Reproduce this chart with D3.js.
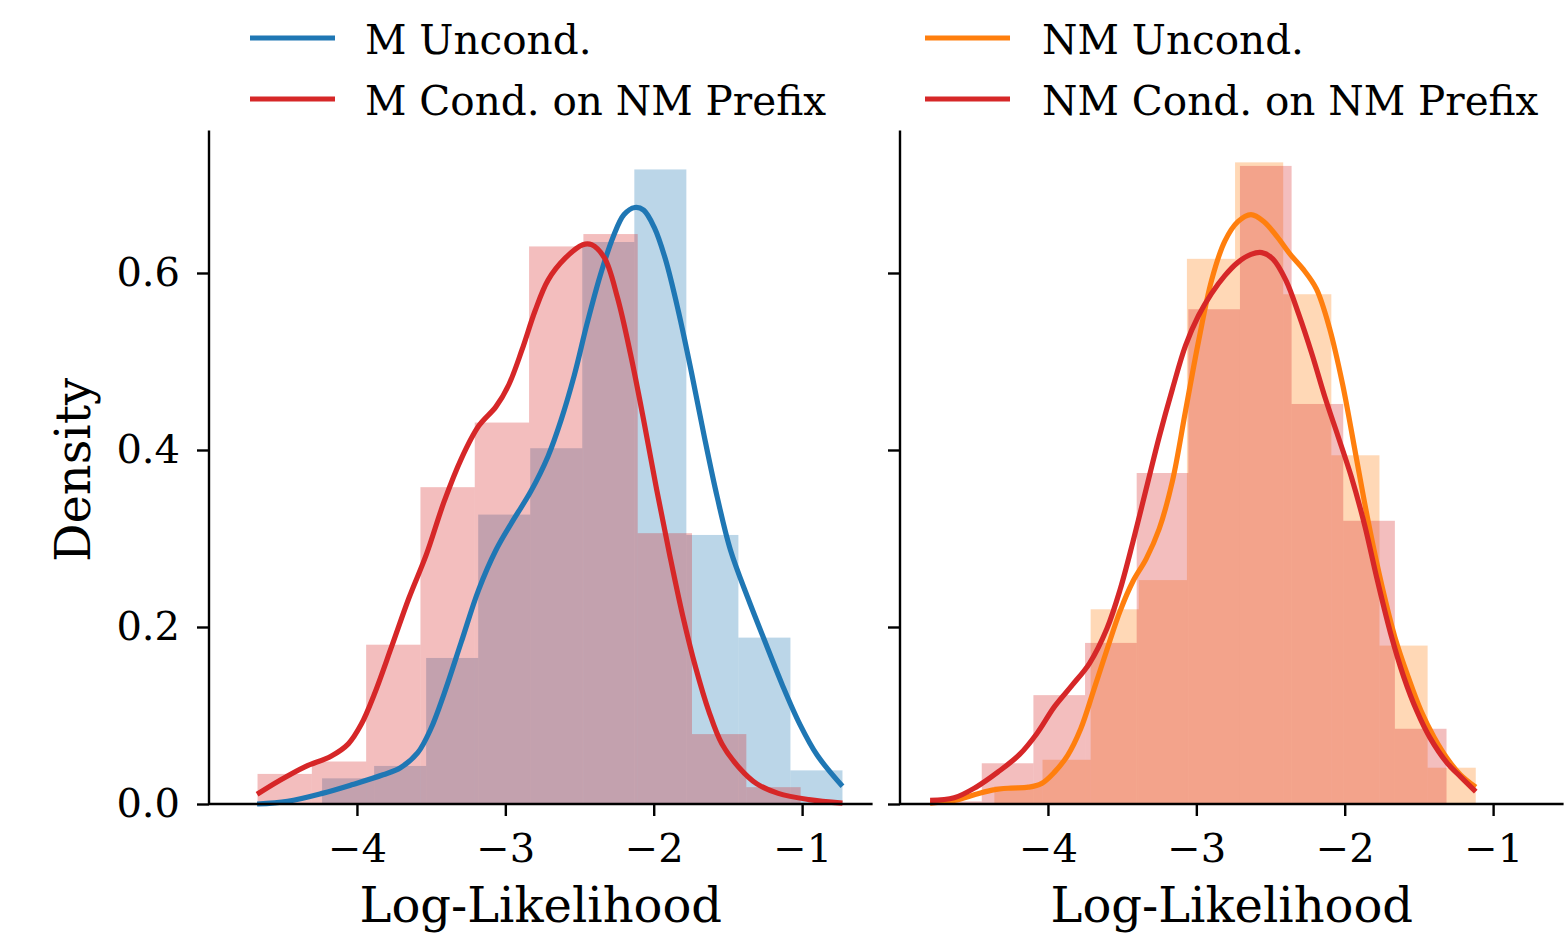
<!DOCTYPE html>
<html>
<head>
<meta charset="utf-8">
<script src="https://cdn.jsdelivr.net/npm/d3@7"></script>
<style>
  html, body { margin: 0; padding: 0; background: #fff; }
  svg { display: block; }
  text { font-family: "DejaVu Serif", serif; fill: #000; }
</style>
</head>
<body>
<svg id="chart" width="1567" height="935"></svg>
<script>
// ---------------- data ----------------
const xTicks = [-4, -3, -2, -1];
const yTicks = [0.0, 0.2, 0.4, 0.6];
const xLabel = "Log-Likelihood";
const yLabel = "Density";

// Left panel: histogram bins (range + densities)
const mUncondBinRange = [-4.235, -0.728];
const mUncondHist = [0.029, 0.043, 0.165, 0.327, 0.402, 0.635, 0.717, 0.304, 0.188, 0.038];
const mCondBinRange = [-4.670, -1.010];
const mCondHist = [0.034, 0.048, 0.180, 0.358, 0.431, 0.630, 0.644, 0.306, 0.079, 0.019];

// Left panel: KDE curves
const mUncondKdeX = [-4.673,-4.468,-4.234,-4.029,-3.824,-3.707,-3.590,-3.502,-3.414,-3.297,-3.180,-3.063,-2.946,-2.829,-2.712,-2.624,-2.536,-2.449,-2.361,-2.273,-2.200,-2.127,-2.068,-1.995,-1.922,-1.834,-1.746,-1.659,-1.571,-1.483,-1.366,-1.249,-1.132,-1.015,-0.898,-0.728];
const mUncondKdeY = [0.000,0.003,0.012,0.022,0.033,0.041,0.058,0.085,0.124,0.183,0.242,0.287,0.321,0.353,0.393,0.434,0.484,0.543,0.597,0.641,0.666,0.674,0.671,0.651,0.616,0.557,0.488,0.415,0.346,0.287,0.233,0.183,0.134,0.090,0.055,0.020];
const mCondKdeX = [-4.673,-4.527,-4.351,-4.175,-4.058,-3.971,-3.883,-3.766,-3.649,-3.532,-3.414,-3.297,-3.180,-3.063,-2.976,-2.888,-2.800,-2.712,-2.595,-2.478,-2.419,-2.332,-2.244,-2.156,-2.068,-1.981,-1.893,-1.805,-1.717,-1.629,-1.541,-1.424,-1.307,-1.161,-0.956,-0.728];
const mCondKdeY = [0.011,0.026,0.042,0.054,0.068,0.090,0.124,0.178,0.233,0.282,0.341,0.390,0.427,0.449,0.474,0.513,0.557,0.592,0.617,0.632,0.632,0.617,0.572,0.508,0.434,0.356,0.282,0.213,0.154,0.105,0.068,0.041,0.023,0.012,0.005,0.001];

// Right panel: histogram bins
const nmUncondBinRange = [-4.361, -1.117];
const nmUncondHist = [0.020, 0.050, 0.220, 0.253, 0.616, 0.725, 0.576, 0.394, 0.179, 0.041];
const nmCondBinRange = [-4.794, -1.314];
const nmCondHist = [0.003, 0.046, 0.123, 0.182, 0.374, 0.559, 0.721, 0.452, 0.320, 0.085];

// Right panel: KDE curves
const nmUncondKdeX = [-4.794,-4.632,-4.485,-4.367,-4.250,-4.132,-4.044,-3.956,-3.867,-3.779,-3.691,-3.603,-3.514,-3.426,-3.338,-3.250,-3.161,-3.073,-2.985,-2.897,-2.808,-2.720,-2.632,-2.544,-2.456,-2.367,-2.279,-2.191,-2.103,-2.014,-1.926,-1.838,-1.750,-1.661,-1.573,-1.485,-1.397,-1.308,-1.220,-1.117];
const nmUncondKdeY = [0.001,0.004,0.011,0.016,0.018,0.019,0.023,0.036,0.055,0.085,0.129,0.174,0.218,0.252,0.277,0.311,0.365,0.444,0.523,0.592,0.636,0.658,0.666,0.658,0.641,0.621,0.604,0.582,0.538,0.474,0.395,0.316,0.247,0.188,0.144,0.105,0.075,0.051,0.033,0.019];
const nmCondKdeX = [-4.794,-4.632,-4.485,-4.338,-4.191,-4.073,-3.956,-3.838,-3.720,-3.603,-3.514,-3.426,-3.338,-3.250,-3.161,-3.073,-2.985,-2.897,-2.808,-2.720,-2.632,-2.559,-2.485,-2.397,-2.309,-2.220,-2.132,-2.044,-1.956,-1.867,-1.779,-1.691,-1.603,-1.514,-1.426,-1.308,-1.220,-1.117];
const nmCondKdeY = [0.004,0.007,0.019,0.036,0.056,0.080,0.110,0.134,0.159,0.198,0.242,0.297,0.356,0.415,0.469,0.518,0.552,0.577,0.597,0.612,0.621,0.623,0.616,0.592,0.553,0.508,0.459,0.415,0.370,0.316,0.252,0.193,0.144,0.105,0.075,0.046,0.031,0.014];

const leftLegend = ["M Uncond.", "M Cond. on NM Prefix"];
const rightLegend = ["NM Uncond.", "NM Cond. on NM Prefix"];

// ---------------- styles / layout ----------------
const BLUE = "#1f77b4", RED = "#d62728", ORANGE = "#ff7f0e";
const BAR_ALPHA = 0.3;
const xDomain = [-4.997, -0.525];
const yDomain = [0, 0.761];
const plotTop = 130.5, plotBottom = 804;
const panels = [
  { x0: 209, x1: 872.6, showYLabels: true,
    hists: [[mUncondBinRange, mUncondHist, BLUE], [mCondBinRange, mCondHist, RED]],
    kdes: [[mUncondKdeX, mUncondKdeY, BLUE], [mCondKdeX, mCondKdeY, RED]],
    legend: { lineX: 250, textX: 365, items: [[leftLegend[0], BLUE], [leftLegend[1], RED]] } },
  { x0: 900, x1: 1563.6, showYLabels: false,
    hists: [[nmUncondBinRange, nmUncondHist, ORANGE], [nmCondBinRange, nmCondHist, RED]],
    kdes: [[nmUncondKdeX, nmUncondKdeY, ORANGE], [nmCondKdeX, nmCondKdeY, RED]],
    legend: { lineX: 925, textX: 1042, items: [[rightLegend[0], ORANGE], [rightLegend[1], RED]] } }
];

const svg = d3.select("#chart");
const y = d3.scaleLinear().domain(yDomain).range([plotBottom, plotTop]);

panels.forEach(p => {
  const x = d3.scaleLinear().domain(xDomain).range([p.x0, p.x1]);
  const g = svg.append("g");

  // bars
  p.hists.forEach(([range, heights, color]) => {
    const n = heights.length;
    const w = (range[1] - range[0]) / n;
    const bins = heights.map((h, i) => ({ a: range[0] + i * w, b: range[0] + (i + 1) * w, h }));
    g.append("g").selectAll("rect").data(bins).join("rect")
      .attr("x", d => x(d.a))
      .attr("width", d => x(d.b) - x(d.a))
      .attr("y", d => y(d.h))
      .attr("height", d => y(0) - y(d.h))
      .attr("fill", color)
      .attr("fill-opacity", BAR_ALPHA);
  });

  // KDE lines
  const line = d3.line().x(d => x(d[0])).y(d => y(d[1])).curve(d3.curveCatmullRom.alpha(0.5));
  p.kdes.forEach(([xs, ys, color]) => {
    g.append("path")
      .datum(xs.map((v, i) => [v, ys[i]]))
      .attr("d", line)
      .attr("fill", "none")
      .attr("stroke", color)
      .attr("stroke-width", 5.2)
      .attr("stroke-linejoin", "round");
  });

  // axes
  const xAxis = d3.axisBottom(x).tickValues(xTicks)
    .tickFormat(d => "\u2212" + Math.abs(d)).tickSize(12).tickPadding(18);
  const gx = g.append("g").attr("transform", `translate(0,${plotBottom})`).call(xAxis);
  gx.select(".domain").attr("d", `M${p.x0},0H${p.x1}`).attr("stroke", "#000").attr("stroke-width", 2.4);
  gx.selectAll(".tick line").attr("stroke", "#000").attr("stroke-width", 2.4);
  gx.selectAll(".tick text").attr("font-size", 40).attr("font-family", "DejaVu Serif");

  const yAxis = d3.axisLeft(y).tickValues(yTicks)
    .tickFormat(p.showYLabels ? d3.format(".1f") : () => "").tickSize(12).tickPadding(17);
  const gy = g.append("g").attr("transform", `translate(${p.x0},0)`).call(yAxis);
  gy.select(".domain").attr("d", `M0,${plotTop}V${plotBottom}`).attr("stroke", "#000").attr("stroke-width", 2.4);
  gy.selectAll(".tick line").attr("stroke", "#000").attr("stroke-width", 2.4);
  gy.selectAll(".tick text").attr("font-size", 40).attr("font-family", "DejaVu Serif");

  // x label
  g.append("text")
    .attr("x", (p.x0 + p.x1) / 2).attr("y", 922)
    .attr("text-anchor", "middle").attr("font-size", 48)
    .text(xLabel);

  // legend
  p.legend.items.forEach(([label, color], i) => {
    const ly = 38 + i * 61;
    g.append("line")
      .attr("x1", p.legend.lineX).attr("x2", p.legend.lineX + 85)
      .attr("y1", ly).attr("y2", ly)
      .attr("stroke", color).attr("stroke-width", 5.2);
    g.append("text")
      .attr("x", p.legend.textX).attr("y", ly + 16)
      .attr("font-size", 40.5)
      .text(label);
  });
});

// y label
svg.append("text")
  .attr("transform", "translate(90,470) rotate(-90)")
  .attr("text-anchor", "middle").attr("font-size", 48)
  .text(yLabel);
</script>
</body>
</html>
